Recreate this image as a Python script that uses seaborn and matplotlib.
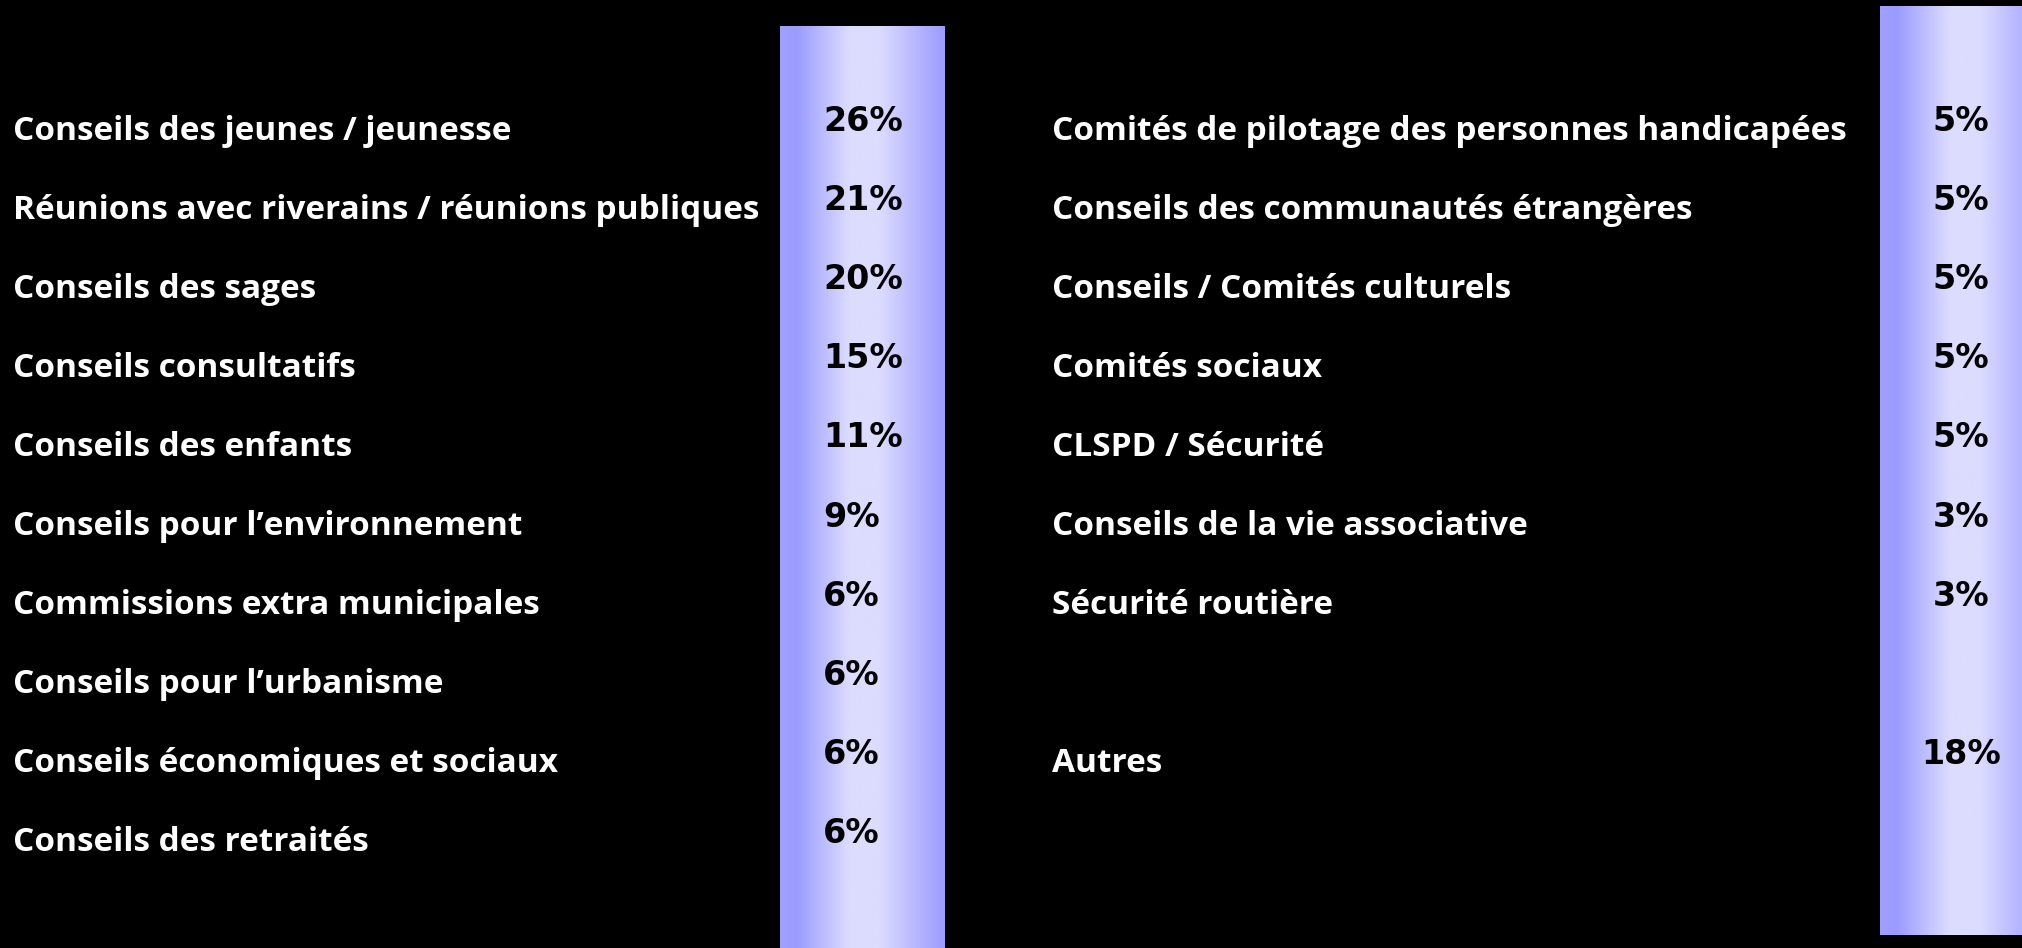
import numpy as np
import matplotlib
matplotlib.use('Agg')
import matplotlib.pyplot as plt
import seaborn as sns
from matplotlib.colors import LinearSegmentedColormap

# Data
left_labels = ['Conseils des jeunes / jeunesse',
               'Réunions avec riverains / réunions publiques',
               'Conseils des sages',
               'Conseils consultatifs',
               'Conseils des enfants',
               'Conseils pour l\u2019environnement',
               'Commissions extra municipales',
               'Conseils pour l\u2019urbanisme',
               'Conseils économiques et sociaux',
               'Conseils des retraités']
left_values = [26, 21, 20, 15, 11, 9, 6, 6, 6, 6]

right_labels = ['Comités de pilotage des personnes handicapées',
                'Conseils des communautés étrangères',
                'Conseils / Comités culturels',
                'Comités sociaux',
                'CLSPD / Sécurité',
                'Conseils de la vie associative',
                'Sécurité routière',
                'Autres']
right_values = [5, 5, 5, 5, 5, 3, 3, 18]
right_rows = [0, 1, 2, 3, 4, 5, 6, 8]

sns.set_theme(style='white')
plt.rcParams['font.family'] = ['Open Sans', 'DejaVu Sans']

W, H = 2022, 948
fig = plt.figure(figsize=(W / 100, H / 100), dpi=100, facecolor='black')

# gradient bands behind the percentages
band_cmap = LinearSegmentedColormap.from_list(
    'band', [(0.0, '#a0a0ff'), (0.1, '#9b9bff'), (0.42, '#dcdcff'),
             (0.6, '#dcdcff'), (1.0, '#9b9bff')])
grad = np.linspace(0, 1, 256)[None, :]
for x0, y0, y1 in [(780, 26, 948), (1880, 6, 935)]:
    bax = fig.add_axes([x0 / W, 1 - y1 / H, 165 / W, (y1 - y0) / H])
    bax.imshow(grad, cmap=band_cmap, aspect='auto', extent=(0, 1, 0, 1))
    bax.set_axis_off()

# text layer, rows on the y axis
ax = fig.add_axes([0, 0, 1, 1])
ax.patch.set_alpha(0)
ax.set_xlim(0, 1)
row_px, step_px = 131, 79.1
ax.set_ylim((H - row_px) / step_px, -row_px / step_px)
ax.set_axis_off()

label_kw = dict(color='white', fontsize=24, fontweight='bold', va='center')
pct_kw = dict(color='black', fontsize=24, fontweight='bold', va='center',
              family='DejaVu Sans')

for i, (lab, val) in enumerate(zip(left_labels, left_values)):
    ax.text(13 / W, i, lab, ha='left', **label_kw)
    ax.text(823 / W, i - 0.12, '{}%'.format(val), ha='left', **pct_kw)

for i, lab, val in zip(right_rows, right_labels, right_values):
    ax.text(1052 / W, i, lab, ha='left', **label_kw)
    ax.text(1961 / W, i - 0.12, '{}%'.format(val), ha='center', **pct_kw)

fig.savefig('out.png', dpi=100, facecolor='black')
